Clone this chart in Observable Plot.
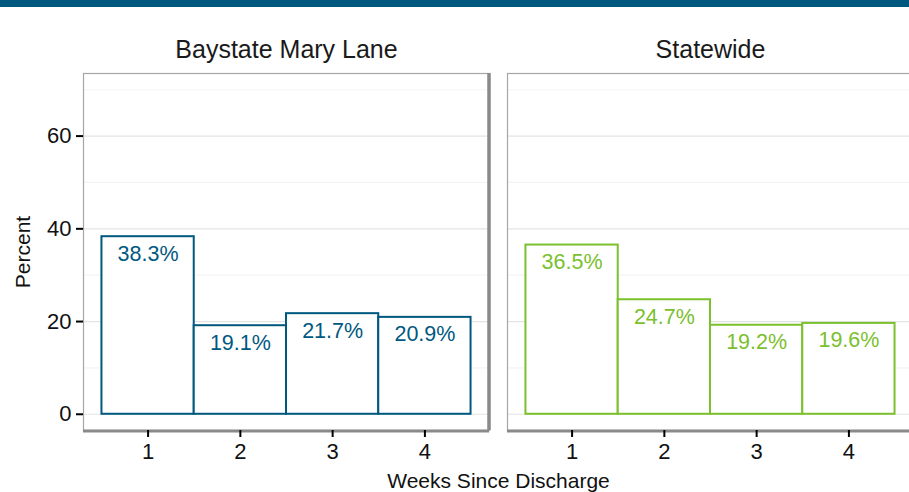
<!DOCTYPE html>
<html>
<head>
<meta charset="utf-8">
<script src="https://cdn.jsdelivr.net/npm/d3@7"></script>
<script src="https://cdn.jsdelivr.net/npm/@observablehq/plot@0.6"></script>
<style>
  html, body { margin: 0; padding: 0; background: #fff; overflow: hidden; width: 909px; height: 492px; }
  #band { position: absolute; left: 0; top: 0; width: 909px; height: 7px; background: #00587F; z-index: 2; }
  #chart { position: absolute; left: 0; top: 0; width: 925px; }
  #chart svg { max-width: none !important; }
</style>
</head>
<body>
<div id="band"></div>
<div id="chart"></div>
<script>
const facets = ["Baystate Mary Lane", "Statewide"];
const facetColors = ["#00587F", "#7BC02D"];
const weeks = [1, 2, 3, 4];
const baystate = [38.3, 19.1, 21.7, 20.9];
const statewide = [36.5, 24.7, 19.2, 19.6];
const majorTicks = [0, 20, 40, 60];
const minorTicks = [10, 30, 50, 70];
const yDomain = [-3.5, 73.5];
const xDomain = [0.3, 4.7];

const series = [baystate, statewide];
const rows = [];
facets.forEach((f, i) => weeks.forEach((w, j) => rows.push({facet: f, week: w, value: series[i][j], color: facetColors[i]})));

const font = "'Liberation Sans', Arial, Helvetica, sans-serif";

const chart = Plot.plot({
  width: 925,
  height: 492,
  marginLeft: 83,
  marginRight: 12,
  marginTop: 73,
  marginBottom: 62,
  style: {fontFamily: font, background: "transparent", overflow: "visible", maxWidth: "none"},
  fx: {domain: facets, paddingInner: 0.0425, paddingOuter: 0, label: null},
  x: {domain: xDomain, label: null},
  y: {domain: yDomain, label: null},
  color: {type: "identity"},
  marks: [
    Plot.ruleY(minorTicks, {stroke: "#f4f4f4", strokeWidth: 1.2}),
    Plot.ruleY(majorTicks, {stroke: "#e3e3e3", strokeWidth: 1.2}),
    Plot.rectY(rows, {fx: "facet", x1: d => d.week - 0.5, x2: d => d.week + 0.5, y1: 0, y2: "value", fill: "white", stroke: "color", strokeWidth: 2}),
    Plot.text(rows, {fx: "facet", x: "week", y: "value", text: d => d.value.toFixed(1) + "%", fill: "color", dy: 17, fontSize: 21.5}),
    Plot.frame({stroke: "#a6a6a6", strokeWidth: 1.2}),
    Plot.ruleX([xDomain[1]], {stroke: "#8a8a8a", strokeWidth: 3.5, dx: -0.5}),
    Plot.ruleY([yDomain[0]], {stroke: "#8a8a8a", strokeWidth: 3, dy: 0.5}),
    Plot.axisFx({anchor: "top", tickSize: 0, tickPadding: 16, fontSize: 25, fill: "#1a1a1a", label: null}),
    Plot.axisY(majorTicks, {ticks: majorTicks, tickSize: 7, strokeWidth: 2, stroke: "black", tickPadding: 5, fontSize: 22, fill: "#111", label: null}),
    Plot.axisY({ticks: [], label: "Percent", labelArrow: "none", labelAnchor: "center", labelOffset: 68, fontSize: 21, fill: "#111", tickSize: 0}),
    Plot.axisX(weeks, {ticks: weeks, tickFormat: d => String(d), tickSize: 7, strokeWidth: 2, stroke: "black", tickPadding: 6, fontSize: 22, fill: "#111", label: null}),
    Plot.text(["Weeks Since Discharge"], {frameAnchor: "bottom", facet: "super", dy: 57, fontSize: 21, fill: "#111"})
  ]
});
document.getElementById("chart").appendChild(chart);
</script>
</body>
</html>
